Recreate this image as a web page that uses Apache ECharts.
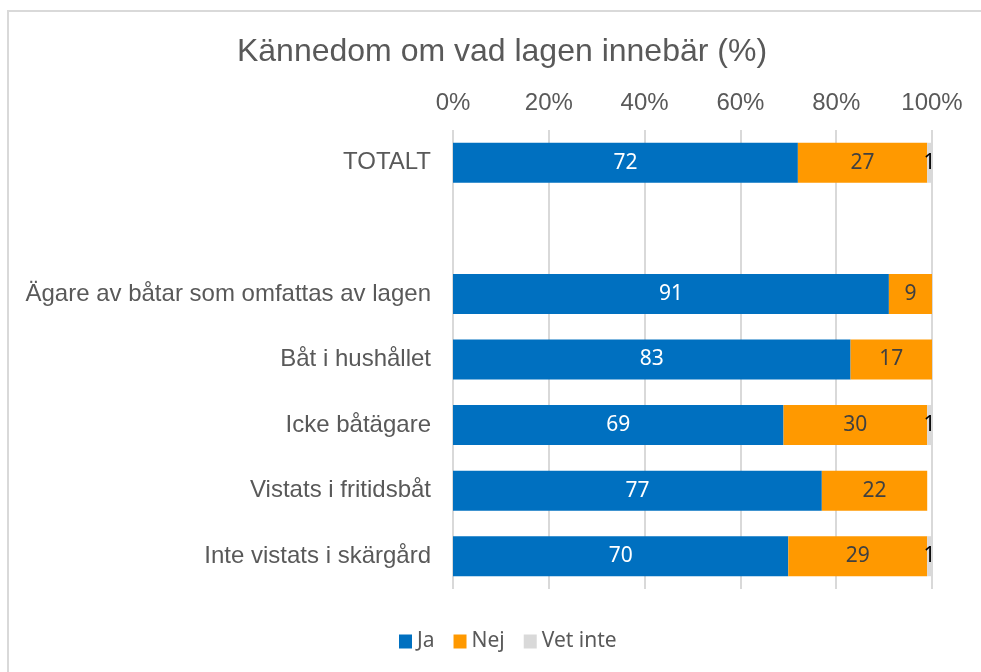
<!DOCTYPE html>
<html>
<head>
<meta charset="utf-8">
<script src="https://cdn.jsdelivr.net/npm/echarts@6/dist/echarts.min.js"></script>
<style>
  html, body { margin: 0; padding: 0; background: #fff; }
  #frame { position: absolute; left: 7px; top: 10px; width: 974px; height: 662px;
           border-left: 2px solid #d9d9d9; border-top: 2px solid #d9d9d9; box-sizing: border-box; }
  #chart { position: absolute; left: 0; top: 0; width: 981px; height: 672px; }
</style>
</head>
<body>
<div id="frame"></div>
<div id="chart"></div>
<script>
// Groups (blank row separates the total from the subgroups)
const categories = ['TOTALT', '', 'Ägare av båtar som omfattas av lagen', 'Båt i hushållet',
  'Icke båtägare', 'Vistats i fritidsbåt', 'Inte vistats i skärgård'];
const ja = [72, null, 91, 83, 69, 77, 70];
const nej = [27, null, 9, 17, 30, 22, 29];
const vetInte = [1, null, 0, 0, 1, 0, 1];
const xTicks = [0, 20, 40, 60, 80, 100];

const labelFont = '"Noto Sans", "Open Sans", sans-serif';
const mainFont = '"Liberation Sans", Arial, sans-serif';

function seg(name, data, color, labelColor) {
  return {
    name, type: 'bar', stack: 'total', data,
    barCategoryGap: '39%',
    itemStyle: { color },
    label: {
      show: true, position: 'inside', color: labelColor,
      fontFamily: labelFont, fontSize: 21,
      formatter: p => (p.value ? String(p.value) : '')
    }
  };
}

const chart = echarts.init(document.getElementById('chart'), null, { renderer: 'canvas' });
chart.setOption({
  animation: false,
  title: {
    text: 'Kännedom om vad lagen innebär (%)',
    left: 497, top: 31, textAlign: 'center',
    textStyle: { fontFamily: mainFont, fontSize: 32, fontWeight: 'normal', color: '#595959' }
  },
  legend: {
    top: 626, left: 394, itemWidth: 13, itemHeight: 14, itemGap: 19,
    icon: 'rect',
    textStyle: { fontFamily: labelFont, fontSize: 21, color: '#595959' },
    data: ['Ja', 'Nej', 'Vet inte']
  },
  grid: { left: 453, right: 49, top: 130, bottom: 83, containLabel: false },
  xAxis: {
    type: 'value', position: 'top', min: 0, max: 100, interval: 20,
    axisLine: { show: false }, axisTick: { show: false },
    splitLine: { lineStyle: { color: '#d9d9d9', width: 2 } },
    axisLabel: {
      fontFamily: mainFont, fontSize: 24, color: '#595959', margin: 15,
      formatter: v => (xTicks.includes(v) ? v + '%' : '')
    }
  },
  yAxis: {
    type: 'category', data: categories, inverse: true,
    axisLine: { show: false }, axisTick: { show: false },
    axisLabel: { fontFamily: mainFont, fontSize: 24, color: '#595959', margin: 22 }
  },
  series: [
    seg('Ja', ja, '#0070c0', '#ffffff'),
    seg('Nej', nej, '#ff9900', '#404040'),
    seg('Vet inte', vetInte, '#d9d9d9', '#000000')
  ]
});
</script>
</body>
</html>
